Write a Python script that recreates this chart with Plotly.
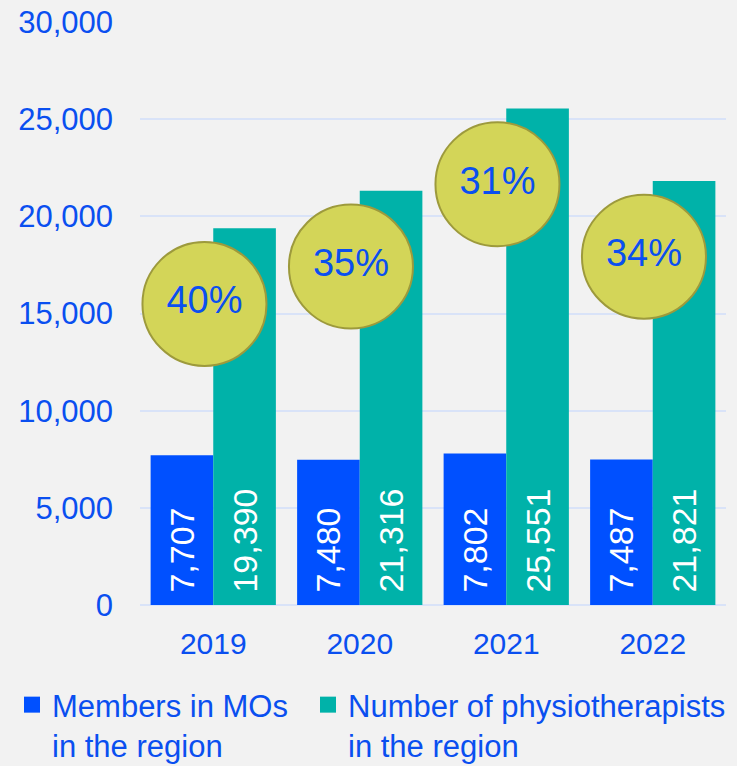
import plotly.graph_objects as go

years = ["2019", "2020", "2021", "2022"]
members = [7707, 7480, 7802, 7487]
physios = [19390, 21316, 25551, 21821]
series_names = ["Members in MOs<br>in the region", "Number of physiotherapists<br>in the region"]

BLUE = "#0050ff"
TEAL = "#00b2a9"
TXT = "#0a4ff0"
FONT = "Liberation Sans, Arial, sans-serif"

xs = list(range(len(years)))
pct = [f"{round(m / p * 100)}%" for m, p in zip(members, physios)]

fig = go.Figure()
fig.add_trace(go.Bar(
    x=xs, y=members, name=series_names[0], marker=dict(color=BLUE, line=dict(width=0)),
    text=[f"\u00a0{v:,}" for v in members], textposition="inside", insidetextanchor="start",
    textangle=-90, textfont=dict(color="white", size=34, family=FONT),
    hoverinfo="skip", showlegend=False,
))
fig.add_trace(go.Bar(
    x=xs, y=physios, name=series_names[1], marker=dict(color=TEAL, line=dict(width=0)),
    text=[f"\u00a0{v:,}" for v in physios], textposition="inside", insidetextanchor="start",
    textangle=-90, textfont=dict(color="white", size=34, family=FONT),
    hoverinfo="skip", showlegend=False,
))
fig.add_trace(go.Scatter(
    x=[x - 0.06 for x in xs], y=[p - 3900 for p in physios], mode="markers+text",
    marker=dict(size=124, color="#d3d558", line=dict(color="#9d9a3c", width=2)),
    text=pct, textposition="middle center",
    textfont=dict(color=TXT, size=38, family=FONT),
    showlegend=False, cliponaxis=False, hoverinfo="skip",
))
# legend entries (square symbols)
fig.add_trace(go.Scatter(
    x=[None], y=[None], mode="markers", name=series_names[0],
    marker=dict(symbol="square", size=16, color=BLUE), legend="legend",
))
fig.add_trace(go.Scatter(
    x=[None], y=[None], mode="markers", name=series_names[1],
    marker=dict(symbol="square", size=16, color=TEAL), legend="legend2",
))

leg_common = dict(
    xref="container", yref="container", y=1 - 678 / 766,
    xanchor="left", yanchor="top", valign="top",
    font=dict(size=31, color=TXT, family=FONT), itemsizing="trace",
    bgcolor="rgba(0,0,0,0)",
)

fig.update_layout(
    width=737, height=766,
    paper_bgcolor="#f2f2f2", plot_bgcolor="#f2f2f2",
    margin=dict(l=140, r=11, t=22, b=161, autoexpand=False),
    barmode="group", bargap=0.145, bargroupgap=0,
    font=dict(family=FONT, color=TXT),
    showlegend=True,
    legend=dict(x=12 / 737, **leg_common),
    legend2=dict(x=308 / 737, **leg_common),
    xaxis=dict(
        tickmode="array", tickvals=xs, ticktext=years, range=[-0.5, 3.5],
        showgrid=False, zeroline=False, showline=False,
        tickfont=dict(size=30, color=TXT, family=FONT),
        ticks="outside", ticklen=12, tickcolor="rgba(0,0,0,0)",
    ),
    yaxis=dict(
        range=[0, 30000], tickvals=[0, 5000, 10000, 15000, 20000, 25000, 30000],
        tickformat=",d", showgrid=True, gridcolor="#d9e3f8", gridwidth=1.5,
        zeroline=True, zerolinecolor="#d9e3f8", zerolinewidth=1.5,
        tickfont=dict(size=31, color=TXT, family=FONT),
        ticklabelstandoff=26,
    ),
)

fig.write_html(
    "out.html",
    config={"displayModeBar": False},
    post_script="document.body.style.margin='0';document.body.style.background='#f2f2f2';",
)
